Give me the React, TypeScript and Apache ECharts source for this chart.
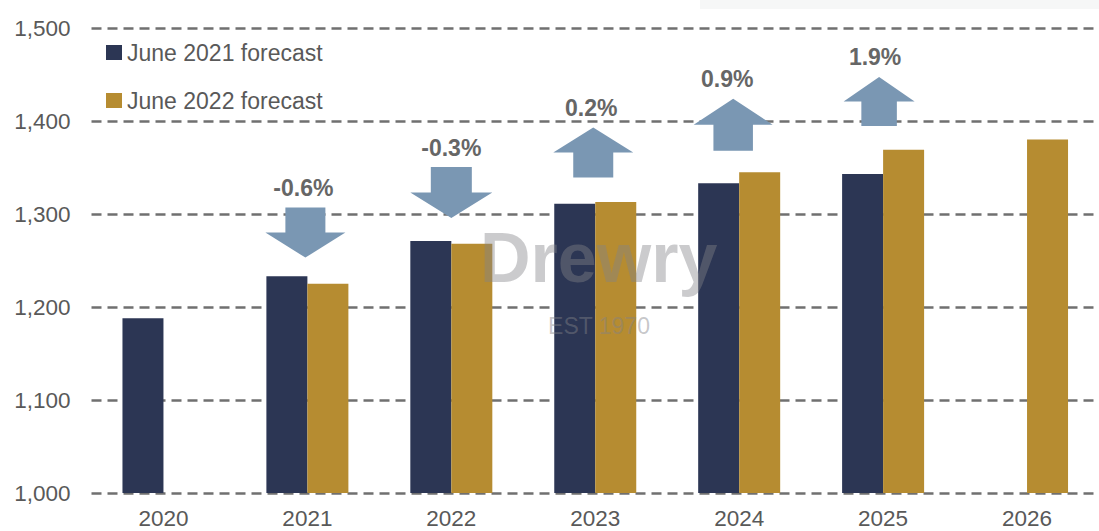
import React, { useEffect, useRef } from "react";
import * as echarts from "echarts";

const categories = ["2020", "2021", "2022", "2023", "2024", "2025", "2026"];
const june2021Forecast: (number | null)[] = [1188, 1233, 1271, 1311, 1333, 1343, null];
const june2022Forecast: (number | null)[] = [null, 1225, 1268, 1313, 1345, 1369, 1380];

// Revision arrows: year, level on the axis where the arrow sits, label
const arrowYears = ["2021", "2022", "2023", "2024", "2025"];
const arrowLevels = [1280, 1323, 1366, 1396, 1421];
const arrowChanges = ["-0.6%", "-0.3%", "0.2%", "0.9%", "1.9%"];
const yTicks = { min: 1000, max: 1500, interval: 100 };

const NAVY = "#2C3654";
const GOLD = "#B68C31";
const ARROW = "#7A97B3";
const TEXT = "#595959";
const FONT = 'Arial, "Liberation Sans", sans-serif';

const DOWN = "path://M20,0 L60,0 L60,25 L80,25 L40,50 L0,25 L20,25 Z";
const UP = "path://M40,0 L80,25 L60,25 L60,50 L20,50 L20,25 L0,25 Z";
const arrowOffsets = [-2, 0, -2, -6, -4];
const arrowSizes = [[80, 50], [82, 51], [80, 50], [79, 52], [71, 49]];

export default function App() {
  const ref = useRef<HTMLDivElement>(null);
  useEffect(() => {
    if (!ref.current) return;
    const chart = echarts.init(ref.current, null, { renderer: "svg" });
    const arrowData = arrowYears.map((y, i) => ({
      value: [y, arrowLevels[i]],
      symbol: arrowChanges[i].startsWith("-") ? DOWN : UP,
      symbolSize: arrowSizes[i],
      symbolOffset: [arrowOffsets[i], 0],
      label: { formatter: arrowChanges[i], offset: [arrowOffsets[i], 0] },
    }));
    chart.setOption({
      animation: false,
      textStyle: { fontFamily: FONT },
      grid: { left: 91.5, right: -7.5, top: 28, bottom: 38, containLabel: false },
      legend: {
        orient: "vertical",
        left: 101,
        top: 36,
        itemGap: 25,
        itemWidth: 16,
        itemHeight: 15,
        icon: "rect",
        textStyle: { color: TEXT, fontSize: 23, fontFamily: FONT },
        data: ["June 2021 forecast", "June 2022 forecast"],
      },
      xAxis: {
        type: "category",
        data: categories,
        axisLine: { show: false },
        axisTick: { show: false },
        axisLabel: { color: TEXT, fontSize: 22.5, margin: 14, fontFamily: FONT },
      },
      yAxis: {
        type: "value",
        min: yTicks.min,
        max: yTicks.max,
        interval: yTicks.interval,
        axisLine: { show: false },
        axisTick: { show: false },
        axisLabel: {
          color: TEXT,
          fontSize: 22.5,
          margin: 21,
          fontFamily: FONT,
          formatter: (v: number) => v.toLocaleString("en-US"),
        },
        splitLine: { lineStyle: { color: "#707070", width: 2.5, type: [10, 6] } },
      },
      graphic: [
        {
          type: "rect",
          shape: { x: 700, y: 0, width: 399, height: 9 },
          style: { fill: "#f6f7f7" },
          z: -1,
        },
        {
          type: "text",
          x: 480,
          y: 258,
          z: 100,
          style: {
            text: "Drewry",
            font: 'bold 70px Arial, "Liberation Sans", sans-serif',
            fill: "rgba(130,130,135,0.42)",
            verticalAlign: "middle",
            align: "left",
          },
        },
        {
          type: "text",
          x: 599,
          y: 326,
          z: 100,
          style: {
            text: "EST 1970",
            font: '23px Arial, "Liberation Sans", sans-serif',
            fill: "rgba(130,130,135,0.45)",
            verticalAlign: "middle",
            align: "center",
          },
        },
      ],
      series: [
        {
          name: "June 2021 forecast",
          type: "bar",
          data: june2021Forecast,
          barWidth: 41,
          barGap: "0%",
          itemStyle: { color: NAVY },
        },
        {
          name: "June 2022 forecast",
          type: "bar",
          data: june2022Forecast,
          barWidth: 41,
          barGap: "0%",
          itemStyle: { color: GOLD },
        },
        {
          name: "revision",
          type: "scatter",
          data: arrowData,
          itemStyle: { color: ARROW, opacity: 1 },
          z: 5,
          label: {
            show: true,
            position: "top",
            distance: 8,
            color: "#666666",
            fontSize: 23,
            fontWeight: "bold",
            fontFamily: FONT,
          },
        },
      ],
    });
    return () => chart.dispose();
  }, []);
  return (
    <div
      ref={ref}
      style={{ position: "absolute", left: 0, top: 0, width: 1099, height: 531 }}
    />
  );
}
